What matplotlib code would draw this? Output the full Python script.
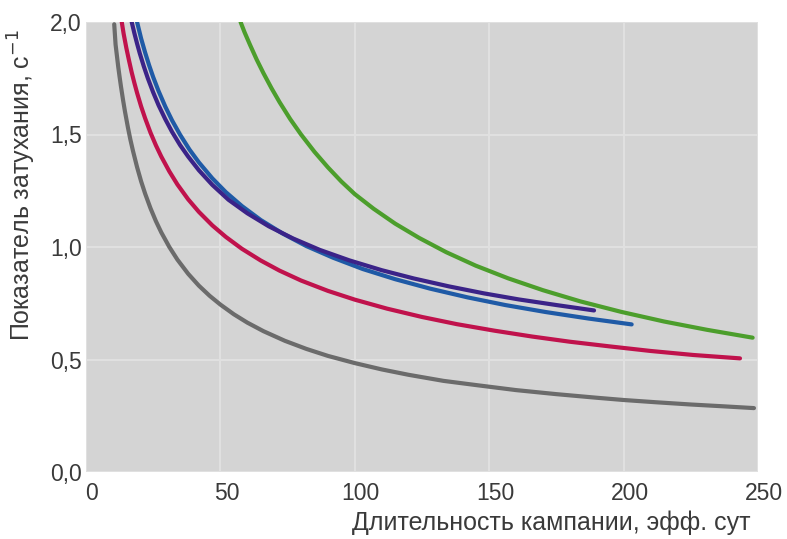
import matplotlib
matplotlib.use("Agg")
import matplotlib.pyplot as plt
from matplotlib.transforms import ScaledTranslation

# Attenuation index vs. campaign length (effective days) for five cases
x_gray = [10.5, 11, 11.5, 12, 12.5, 13, 13.8, 14.5, 15.6, 16.5, 17.5, 19, 20.5, 22, 24, 26, 28, 31, 34, 38,
          42, 46, 50, 55, 60, 66, 74, 82, 90, 100, 110, 120, 133, 146, 160, 175, 190, 200, 212, 225, 237, 248.5]
y_gray = [1.99, 1.90, 1.85, 1.80, 1.756, 1.714, 1.652, 1.602, 1.531, 1.478, 1.426, 1.355, 1.292, 1.237, 1.172,
          1.115, 1.065, 1.0, 0.944, 0.881, 0.828, 0.783, 0.744, 0.701, 0.664, 0.626, 0.583, 0.547, 0.516, 0.484,
          0.456, 0.432, 0.405, 0.385, 0.364, 0.346, 0.33, 0.32, 0.31, 0.30, 0.292, 0.284]

x_red = [13.3, 14, 15, 16, 17, 18, 19, 20.5, 22, 24, 26, 28, 31, 34, 38, 42, 47, 52, 58, 65, 72, 80, 90,
         100, 112, 125, 138, 152, 166, 180, 195, 210, 226, 243.3]
y_red = [2.0, 1.948, 1.885, 1.829, 1.776, 1.729, 1.685, 1.625, 1.572, 1.508, 1.452, 1.402, 1.336, 1.278,
         1.212, 1.156, 1.096, 1.045, 0.992, 0.940, 0.895, 0.851, 0.805, 0.766, 0.726, 0.689, 0.657, 0.628,
         0.602, 0.579, 0.558, 0.538, 0.520, 0.505]

x_purple = [17, 18, 19, 20, 21.5, 23, 25, 27, 29.5, 32, 35, 38, 42, 47, 53, 60, 68, 77, 87, 98, 110, 122,
            135, 148, 161, 175, 189]
y_purple = [2.0, 1.950, 1.904, 1.861, 1.803, 1.750, 1.687, 1.630, 1.568, 1.512, 1.453, 1.402, 1.341, 1.276,
            1.21, 1.150, 1.092, 1.038, 0.987, 0.9405, 0.897, 0.860, 0.825, 0.794, 0.767, 0.742, 0.718]

x_blue = [19, 20.5, 22, 23.5, 25, 27, 29.5, 32, 35, 38.5, 42, 47, 52, 58, 65, 73, 82, 92, 103, 115, 128,
          142, 156, 171, 187, 203]
y_blue = [2.0, 1.927, 1.864, 1.807, 1.755, 1.693, 1.624, 1.563, 1.499, 1.433, 1.376, 1.305, 1.244, 1.182,
          1.120, 1.061, 1.004, 0.952, 0.902, 0.857, 0.815, 0.776, 0.742, 0.711, 0.682, 0.656]

x_green = [57.5, 59, 61, 63.5, 66, 69, 72, 76, 80, 85, 90, 95, 100, 107, 115, 124, 134, 145, 157, 170, 184,
           199, 215, 231, 248]
y_green = [2.0, 1.954, 1.899, 1.833, 1.773, 1.706, 1.644, 1.568, 1.500, 1.423, 1.354, 1.291, 1.235, 1.170,
           1.104, 1.040, 0.977, 0.917, 0.861, 0.808, 0.758, 0.712, 0.669, 0.632, 0.597]

x_ticks = [0, 50, 100, 150, 200, 250]
y_ticks = [0.0, 0.5, 1.0, 1.5, 2.0]
y_tick_labels = ["0,0", "0,5", "1,0", "1,5", "2,0"]

plt.rcParams["font.family"] = ["Liberation Sans", "DejaVu Sans"]

W, H = 787, 539
fig = plt.figure(figsize=(W / 100, H / 100), dpi=100)
fig.patch.set_facecolor("white")
ax = fig.add_axes([86 / W, (H - 472) / H, (758 - 86) / W, (472 - 22) / H])
ax.set_facecolor("#d4d4d4")

lw = 3.0
style = dict(lw=lw, solid_capstyle="round", solid_joinstyle="round")
ax.plot(x_gray, y_gray, color="#6b6b6b", **style)
ax.plot(x_red, y_red, color="#c0124c", **style)
ax.plot(x_blue, y_blue, color="#1f5aa6", **style)
ax.plot(x_purple, y_purple, color="#3b2388", **style)
ax.plot(x_green, y_green, color="#4c9e2c", **style)

ax.set_xlim(0, 250)
ax.set_ylim(0, 2.0)
ax.set_xticks(x_ticks)
ax.set_yticks(y_ticks)
ax.set_yticklabels(y_tick_labels)
ax.grid(True, color="#e0e0e0", lw=1.5)
ax.set_axisbelow(True)
for s in ax.spines.values():
    s.set_visible(False)
ax.tick_params(axis="both", length=0, labelsize=16.5, colors="#3a3a3a")
ax.tick_params(axis="x", pad=7)
ax.tick_params(axis="y", pad=3)

shift = ScaledTranslation(6 / 100, 0, fig.dpi_scale_trans)
for lab in ax.get_xticklabels():
    lab.set_transform(lab.get_transform() + shift)

fig.text(750 / W, (H - 523) / H, "Длительность кампании, эфф. сут",
         ha="right", va="center", fontsize=18, color="#3a3a3a")
fig.text(22 / W, (H - 185) / H, "Показатель затухания, с$^{-1}$",
         ha="center", va="center", rotation=90, fontsize=18, color="#3a3a3a")

fig.savefig("out.png", dpi=100)
